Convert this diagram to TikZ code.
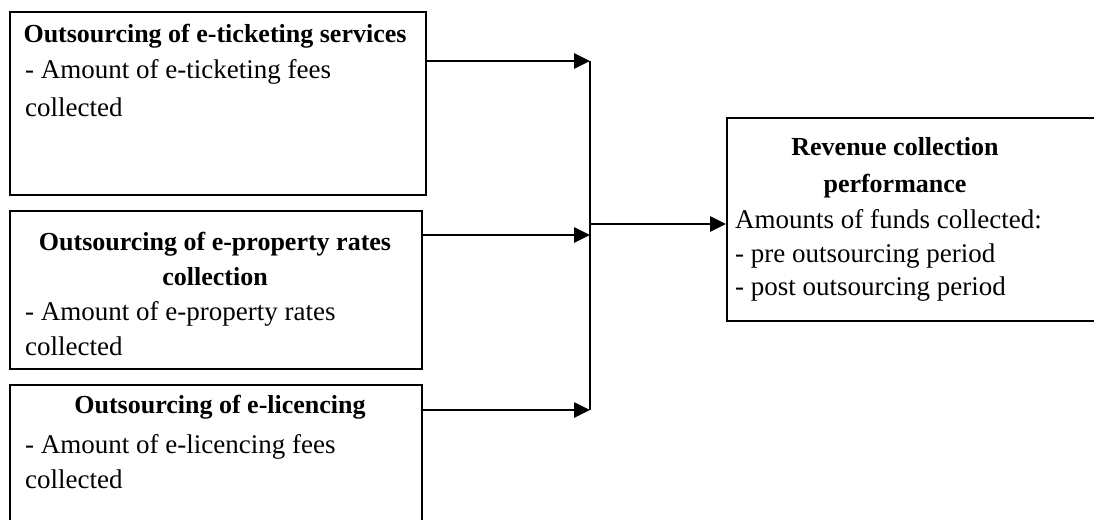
\documentclass[tikz,border=0pt]{standalone}
\usepackage{fontspec}
\setmainfont{Liberation Serif}
\usetikzlibrary{arrows.meta}
\begin{document}
\begin{tikzpicture}[x=1pt,y=-1pt,
  box/.style={draw, line width=2.2pt, inner sep=0pt, anchor=north west},
  conn/.style={line width=2.6pt},
  arr/.style={conn, -{Triangle[length=16pt,width=15pt]}},
  ttl/.style={font=\fontsize{26}{35}\selectfont\bfseries, anchor=base, inner sep=0pt},
  txt/.style={font=\fontsize{27}{35}\selectfont, anchor=base west, inner sep=0pt}]
\useasboundingbox (0,0) rectangle (1094,519);
% boxes
\node[box, minimum width=416pt, minimum height=183pt] (b1) at (9,11) {};
\node[box, minimum width=412pt, minimum height=158pt] (b2) at (9,210) {};
\node[box, minimum width=412pt, minimum height=150pt] (b3) at (9,384) {};
\node[box, minimum width=370pt, minimum height=203pt] (b4) at (726,117) {};
% texts
\node[ttl] (t1a) at (215,42) {Outsourcing of e-ticketing services};
\node[txt] (t1b) at (25,78) {- Amount of e-ticketing fees};
\node[txt] (t1c) at (25,116) {collected};
\node[ttl] (t2a) at (215,250) {Outsourcing of e-property rates};
\node[ttl] (t2b) at (215,285) {collection};
\node[txt] (t2c) at (25,320) {- Amount of e-property rates};
\node[txt] (t2d) at (25,355) {collected};
\node[ttl] (t3a) at (220,413) {Outsourcing of e-licencing};
\node[txt] (t3b) at (25,453) {- Amount of e-licencing fees};
\node[txt] (t3c) at (25,488) {collected};
\node[ttl] (t4a) at (895,155) {Revenue collection};
\node[ttl] (t4b) at (895,192) {performance};
\node[txt] (t4c) at (735,228) {Amounts of funds collected:};
\node[txt] (t4d) at (735,262) {- pre outsourcing period};
\node[txt] (t4e) at (735,295) {- post outsourcing period};
% connectors
\coordinate (j1) at (590,61);
\coordinate (j2) at (590,235);
\coordinate (j3) at (590,410);
\coordinate (jm) at (590,224);
\draw[arr] (b1.east |- j1) -- (j1);
\draw[arr] (b2.east |- j2) -- (j2);
\draw[arr] (b3.east |- j3) -- (j3);
\draw[line width=1.8pt] (j1) -- (j3);
\draw[arr] (jm) -- (b4.west |- jm);
\end{tikzpicture}
\end{document}
